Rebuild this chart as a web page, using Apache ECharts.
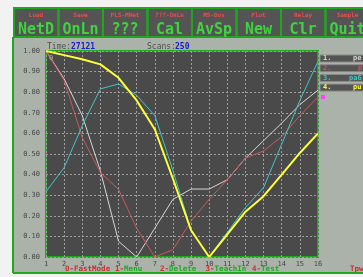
<!DOCTYPE html>
<html>
<head>
<meta charset="utf-8">
<script src="https://cdn.jsdelivr.net/npm/echarts@6/dist/echarts.min.js"></script>
<style>
  html, body { margin: 0; padding: 0; background: #f2f2f2; }
  #chart { width: 363px; height: 277px; }
</style>
</head>
<body>
<div id="chart"></div>
<script>
// scan data
var scanIdx = ['1', '2', '3', '4', '5', '6', '7', '8', '9', '10', '11', '12', '13', '14', '15', '16']
var trace1 = [1.00, 0.865, 0.686, 0.418, 0.076, 0.00, 0.14, 0.28, 0.33, 0.33, 0.375, 0.48, 0.565, 0.65, 0.74, 0.81]
var trace2 = [1.00, 0.857, 0.58, 0.41, 0.328, 0.14, 0.00, 0.036, 0.174, 0.28, 0.375, 0.48, 0.515, 0.584, 0.686, 0.776]
var trace3 = [0.317, 0.434, 0.637, 0.816, 0.84, 0.785, 0.686, 0.42, 0.13, 0.00, 0.12, 0.24, 0.337, 0.548, 0.76, 0.95]
var trace4 = [1.00, 0.98, 0.96, 0.935, 0.87, 0.76, 0.62, 0.38, 0.13, 0.00, 0.11, 0.22, 0.295, 0.40, 0.505, 0.60]

var btnTop = ['Load', 'Save', 'PLS-MNet', '???-OnLn', 'MS-Dos', 'Plot', 'Relay', 'Sample']
var btnMain = ['NetD', 'OnLn', '???', 'Cal', 'AvSp', 'New', 'Clr', 'Quit']
var legendNo = ['1.', '2.', '3.', '4.']
var legendName = ['pe', 'p', 'pa6', 'pu']
var lineColors = ['#d6d6d6', '#c85a5a', '#45c4c4', '#ffff3a']

var mono = 'DejaVu Sans Mono'
var green = '#1fa81f'

var myChart = echarts.init(document.getElementById('chart'))

var g = []
// white margin + grey panel
g.push({ type: 'rect', z: -10, shape: { x: 13, y: 7, width: 350, height: 267 }, style: { fill: '#aab2aa' } })
g.push({ type: 'line', shape: { x1: 13, y1: 37, x2: 13, y2: 273 }, style: { stroke: green, lineWidth: 2 } })
g.push({ type: 'line', shape: { x1: 13, y1: 273, x2: 363, y2: 273 }, style: { stroke: green, lineWidth: 2 } })

// button bar
g.push({ type: 'rect', shape: { x: 13, y: 7, width: 350, height: 31 }, style: { fill: '#545454' } })
btnMain.forEach(function (t, i) {
  var x = 13 + i * 44.5
  g.push({ type: 'rect', shape: { x: x + 1, y: 8, width: 44.5, height: 29 }, style: { fill: 'none', stroke: green, lineWidth: 2 } })
  g.push({ type: 'text', style: { text: btnTop[i], x: x + 23, y: 15, font: 'bold 6px ' + mono, fill: '#e85050', align: 'center', verticalAlign: 'middle' } })
  g.push({ type: 'text', style: { text: t, x: x + 23, y: 30, font: 'bold 15px ' + mono, fill: '#3ed43e', align: 'center', verticalAlign: 'middle' } })
})

// header line
g.push({ type: 'text', style: { text: 'Time:', x: 47, y: 47, font: '8px ' + mono, fill: '#505050', verticalAlign: 'middle' } })
g.push({ type: 'text', style: { text: '27121', x: 71, y: 47, font: 'bold 8px ' + mono, fill: '#1c1cc0', verticalAlign: 'middle' } })
g.push({ type: 'text', style: { text: 'Scans:', x: 147, y: 47, font: '8px ' + mono, fill: '#505050', verticalAlign: 'middle' } })
g.push({ type: 'text', style: { text: '250', x: 175, y: 47, font: 'bold 8px ' + mono, fill: '#1c1cc0', verticalAlign: 'middle' } })

// small marker label
g.push({ type: 'text', z: 50, style: { text: '0', x: 49, y: 58, font: '7px ' + mono, fill: '#a8a8a8', verticalAlign: 'middle' } })

// legend boxes on the right
legendNo.forEach(function (t, i) {
  var y = 55 + i * 9.7
  g.push({ type: 'rect', shape: { x: 320, y: y, width: 45, height: 7 }, style: { fill: '#545454', stroke: '#8a8a8a', lineWidth: 1 } })
  g.push({ type: 'text', style: { text: t, x: 323, y: y + 3.5, font: 'bold 7px ' + mono, fill: lineColors[i], verticalAlign: 'middle' } })
  g.push({ type: 'text', style: { text: legendName[i], x: [353, 358, 349, 353][i], y: y + 3.5, font: 'bold 7px ' + mono, fill: lineColors[i], verticalAlign: 'middle' } })
})
g.push({ type: 'rect', shape: { x: 321, y: 95, width: 4, height: 4 }, style: { fill: '#ff40ff' } })

// bottom key line
var keys = [
  { n: '0-FastMode', w: '', x: 65 },
  { n: '1-', w: 'Menu', x: 115 },
  { n: '2-', w: 'Delete', x: 160 },
  { n: '3-', w: 'TeachIn', x: 205.5 },
  { n: '4-', w: 'Test', x: 252 }
]
keys.forEach(function (k) {
  g.push({ type: 'text', style: { text: k.n, x: k.x, y: 269, font: 'bold 7.5px ' + mono, fill: '#c83030', verticalAlign: 'middle' } })
  if (k.w) {
    g.push({ type: 'text', style: { text: k.w, x: k.x + 9.1, y: 269, font: 'bold 7.5px ' + mono, fill: '#23a823', verticalAlign: 'middle' } })
  }
})
g.push({ type: 'text', style: { text: 'Tpw', x: 350, y: 269, font: 'bold 7.5px ' + mono, fill: '#c83030', verticalAlign: 'middle' } })

var traces = [trace1, trace2, trace3, trace4]
var option = {
  animation: false,
  backgroundColor: '#f2f2f2',
  grid: {
    left: 46, right: 45, top: 51, bottom: 20,
    show: true, backgroundColor: '#4a4a4a', borderColor: green, borderWidth: 2
  },
  xAxis: {
    type: 'category',
    boundaryGap: false,
    data: scanIdx,
    axisLine: { show: false },
    axisTick: { show: false },
    axisLabel: { color: '#474747', fontSize: 7, fontFamily: mono, margin: 4 },
    splitLine: { show: true, lineStyle: { color: '#a0a0a0', type: [2, 2], width: 1 } }
  },
  yAxis: {
    type: 'value',
    min: 0, max: 1, interval: 0.1,
    axisLine: { show: false },
    axisTick: { show: false },
    axisLabel: {
      color: '#474747', fontSize: 7, fontFamily: mono, margin: 6,
      formatter: function (v) { return v.toFixed(2) }
    },
    splitLine: { show: true, lineStyle: { color: '#a0a0a0', type: [2, 2], width: 1 } }
  },
  series: traces.map(function (d, i) {
    return {
      type: 'line',
      data: d,
      symbol: 'none',
      z: 2 + i,
      lineStyle: { color: lineColors[i], width: i === 3 ? 2 : 1 }
    }
  }),
  graphic: g
}
myChart.setOption(option)
</script>
</body>
</html>
